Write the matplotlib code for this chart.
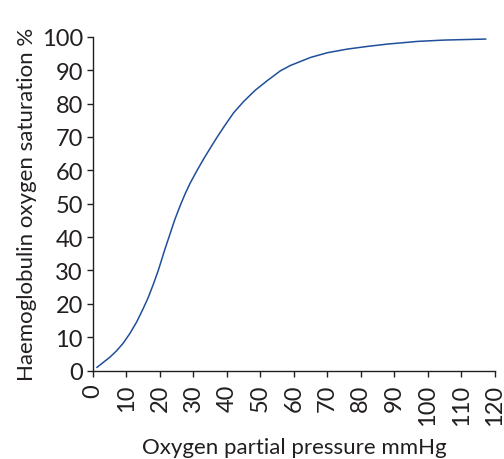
import matplotlib
matplotlib.use("Agg")
import matplotlib.pyplot as plt

# Oxygen dissociation curve
po2 = [1.2, 5, 7, 9, 11, 13, 15, 16.5, 18, 19.5, 21.5, 24.5, 26, 27.5, 29,
       31, 33, 35, 37, 39.5, 42, 45, 48.5, 52, 56, 59, 62, 65, 70, 76, 82,
       88, 97, 105, 117.3]
sat = [1, 4, 5.9, 8.2, 11.1, 14.5, 18.6, 21.9, 25.8, 30, 36.4, 45.4, 49.3,
       52.9, 56.1, 59.8, 63.3, 66.6, 69.8, 73.6, 77.2, 80.6, 84.0, 86.8,
       89.8, 91.4, 92.6, 93.8, 95.2, 96.3, 97.1, 97.8, 98.6, 99, 99.3]

x_ticks = list(range(0, 121, 10))
y_ticks = list(range(0, 101, 10))

TEXT = "#231f20"
LINE = "#1f4f9a"

plt.rcParams["font.family"] = ["Lato", "DejaVu Sans"]

fig = plt.figure(figsize=(5.04, 4.60), dpi=100)
ax = fig.add_axes([0.1845, 0.192, 0.797, 0.726])

ax.plot(po2, sat, color=LINE, lw=1.1)

ax.set_xlim(0, 120)
ax.set_ylim(0, 100)
ax.set_xticks(x_ticks)
ax.set_yticks(y_ticks)
ax.set_xticklabels([str(v) for v in x_ticks], rotation=90, va="top")

for side in ("top", "right"):
    ax.spines[side].set_visible(False)
for side in ("left", "bottom"):
    ax.spines[side].set_color(TEXT)
    ax.spines[side].set_linewidth(1.0)

ax.tick_params(axis="both", direction="out", length=4.3, width=1.0,
               colors=TEXT, labelsize=17, labelcolor=TEXT)
ax.tick_params(axis="y", pad=3)
ax.tick_params(axis="x", pad=5)

ax.set_xlabel("Oxygen partial pressure mmHg", fontsize=16, color=TEXT,
              labelpad=9)
ax.set_ylabel("Haemoglobulin oxygen saturation %", fontsize=16,
              color=TEXT, labelpad=3)

fig.savefig("out.png", dpi=100)
